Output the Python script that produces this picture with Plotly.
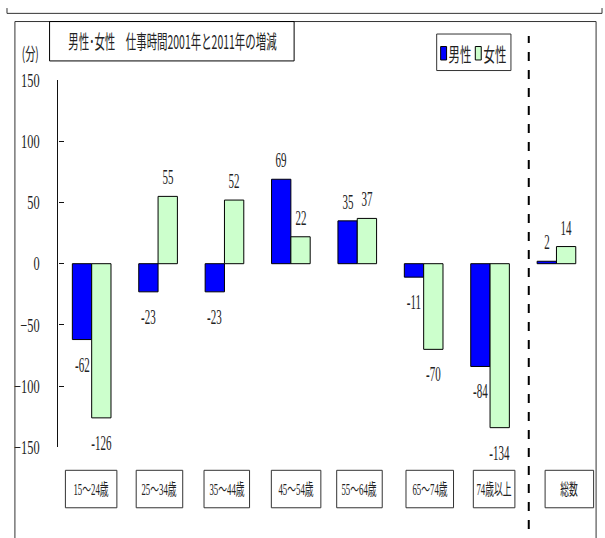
import json
import plotly.graph_objects as go

# 仕事時間の増減（分）: 2001年 → 2011年
categories = ["15～24歳", "25～34歳", "35～44歳", "45～54歳",
              "55～64歳", "65～74歳", "74歳以上", "総数"]
male = [-62, -23, -23, 69, 35, -11, -84, 2]
female = [-126, 55, 52, 22, 37, -70, -134, 14]
y_ticks = [-150, -100, -50, 0, 50, 100, 150]

W, H = 605, 538
NUM_FONT = "Liberation Serif, Noto Sans CJK JP, serif"
JP_FONT = "Noto Sans CJK JP, Liberation Serif, sans-serif"
BLUE = "#0000FF"
GREEN = "#CCFFCC"
BARGAP = 0.418
TICK_SQUEEZE = 0.65


def px(x):
    return x / W


def py(y):
    return 1 - y / H


xs = list(range(len(categories)))

fig = go.Figure()
fig.add_trace(go.Bar(x=xs, y=male, name="男性", marker=dict(color=BLUE, line=dict(color="#000", width=1))))
fig.add_trace(go.Bar(x=xs, y=female, name="女性", marker=dict(color=GREEN, line=dict(color="#000", width=1))))

annotations = []
squeeze = []   # horizontal compression per annotation (narrow, tall lettering)
shapes = []


def add_text(s, **kw):
    annotations.append(dict(showarrow=False, **kw))
    squeeze.append(s)


# value labels above / below each bar
off = (1 - BARGAP) / 4
for series, sign in ((male, -1), (female, 1)):
    for i, v in enumerate(series):
        add_text(0.55, x=i + sign * off, y=v, xref="x", yref="y", text=str(v),
                 yanchor="middle", yshift=19 if v >= 0 else -25,
                 font=dict(family=NUM_FONT, size=20, color="#222"))

# boxed category labels under the plot
box_centers = [86, 155, 223, 293, 357, 428, 493, 569]
box_widths = [50, 45, 44, 48, 44, 46, 40, 47]
for c, w, label in zip(box_centers, box_widths, categories):
    shapes.append(dict(type="rect", xref="paper", yref="paper",
                       x0=px(c - w / 2 - 1), x1=px(c + w / 2 + 1), y0=py(518), y1=py(479),
                       line=dict(color="#333", width=1)))
    add_text(0.55, x=px(c), y=py(498.5), xref="paper", yref="paper", text=label,
             xanchor="center", yanchor="middle",
             font=dict(family=NUM_FONT, size=16, color="#222"))

# outer frame and top rule
shapes.append(dict(type="rect", xref="paper", yref="paper", x0=px(9), x1=px(596), y0=py(560), y1=py(12),
                   line=dict(color="#333", width=1)))
shapes.append(dict(type="line", xref="paper", yref="paper", x0=px(1), x1=px(602), y0=py(3.5), y1=py(3.5),
                   line=dict(color="#333", width=1)))
shapes.append(dict(type="line", xref="paper", yref="paper", x0=px(1), x1=px(1), y0=py(-2), y1=py(3.5),
                   line=dict(color="#333", width=1)))
shapes.append(dict(type="line", xref="paper", yref="paper", x0=px(602), x1=px(602), y0=py(-2), y1=py(3.5),
                   line=dict(color="#333", width=1)))

# title box
shapes.append(dict(type="rect", xref="paper", yref="paper", x0=px(44), x1=px(291), y0=py(53), y1=py(12),
                   line=dict(color="#000", width=1)))
add_text(0.55, x=px(168), y=py(32), xref="paper", yref="paper",
         text="男性･女性　仕事時間2001年と2011年の増減",
         xanchor="center", yanchor="middle",
         font=dict(family=JP_FONT, size=19, color="#222"))

# unit label
add_text(0.6, x=px(25), y=py(44), xref="paper", yref="paper", text="(分)",
         xanchor="center", yanchor="middle", font=dict(family=JP_FONT, size=17, color="#222"))

# legend box
shapes.append(dict(type="rect", xref="paper", yref="paper", x0=px(435), x1=px(510), y0=py(63), y1=py(25),
                   line=dict(color="#333", width=1)))
for x0, color, name, tx in ((439, BLUE, "男性", 459), (474, GREEN, "女性", 494)):
    shapes.append(dict(type="rect", xref="paper", yref="paper", x0=px(x0), x1=px(x0 + 6), y0=py(52), y1=py(38),
                       fillcolor=color, line=dict(color="#000", width=1)))
    add_text(0.6, x=px(tx), y=py(45), xref="paper", yref="paper", text=name,
             xanchor="center", yanchor="middle",
             font=dict(family=JP_FONT, size=19, color="#222"))

# dashed separator before the total
shapes.append(dict(type="line", xref="paper", yref="paper", x0=px(528), x1=px(528), y0=py(540), y1=py(27),
                   line=dict(color="#000", width=2, dash="dash")))

fig.update_layout(
    width=W, height=H,
    margin=dict(l=0, r=0, t=0, b=0),
    paper_bgcolor="white", plot_bgcolor="white",
    barmode="group", bargap=BARGAP, bargroupgap=0,
    showlegend=False,
    xaxis=dict(domain=[px(53), px(589.5)], range=[-0.5, 7.5], showticklabels=False,
               showgrid=False, zeroline=False, showline=False, ticks=""),
    yaxis=dict(domain=[py(455), py(73)], range=[-150, 150], tickvals=y_ticks,
               showgrid=False, zeroline=False, showline=True, linecolor="#111", linewidth=1.2,
               ticks="inside", ticklen=5, tickcolor="#111", ticklabelstandoff=14,
               tickfont=dict(family=NUM_FONT, size=19, color="#222")),
    shapes=shapes,
    annotations=annotations,
)

# Narrow the lettering horizontally around each text anchor point.
squeeze_js = """
var gd = document.getElementById('{plot_id}');
var annSqueeze = %s;
function squeezeNode(t, s) {
  if (t.getAttribute('data-squeezed')) return;
  var x = parseFloat(t.getAttribute('x')) || 0;
  var cur = t.getAttribute('transform') || '';
  t.setAttribute('transform', cur + ' translate(' + x + ',0) scale(' + s + ',1) translate(' + (-x) + ',0)');
  t.setAttribute('data-squeezed', '1');
}
gd.querySelectorAll('g.annotation').forEach(function (g) {
  var i = parseInt(g.getAttribute('data-index'), 10);
  var s = annSqueeze[i] || 1;
  g.querySelectorAll('text.annotation-text').forEach(function (t) { squeezeNode(t, s); });
});
gd.querySelectorAll('.ytick text').forEach(function (t) { squeezeNode(t, %s); });
""" % (json.dumps(squeeze), TICK_SQUEEZE)

fig.write_html("out.html", post_script=squeeze_js)
